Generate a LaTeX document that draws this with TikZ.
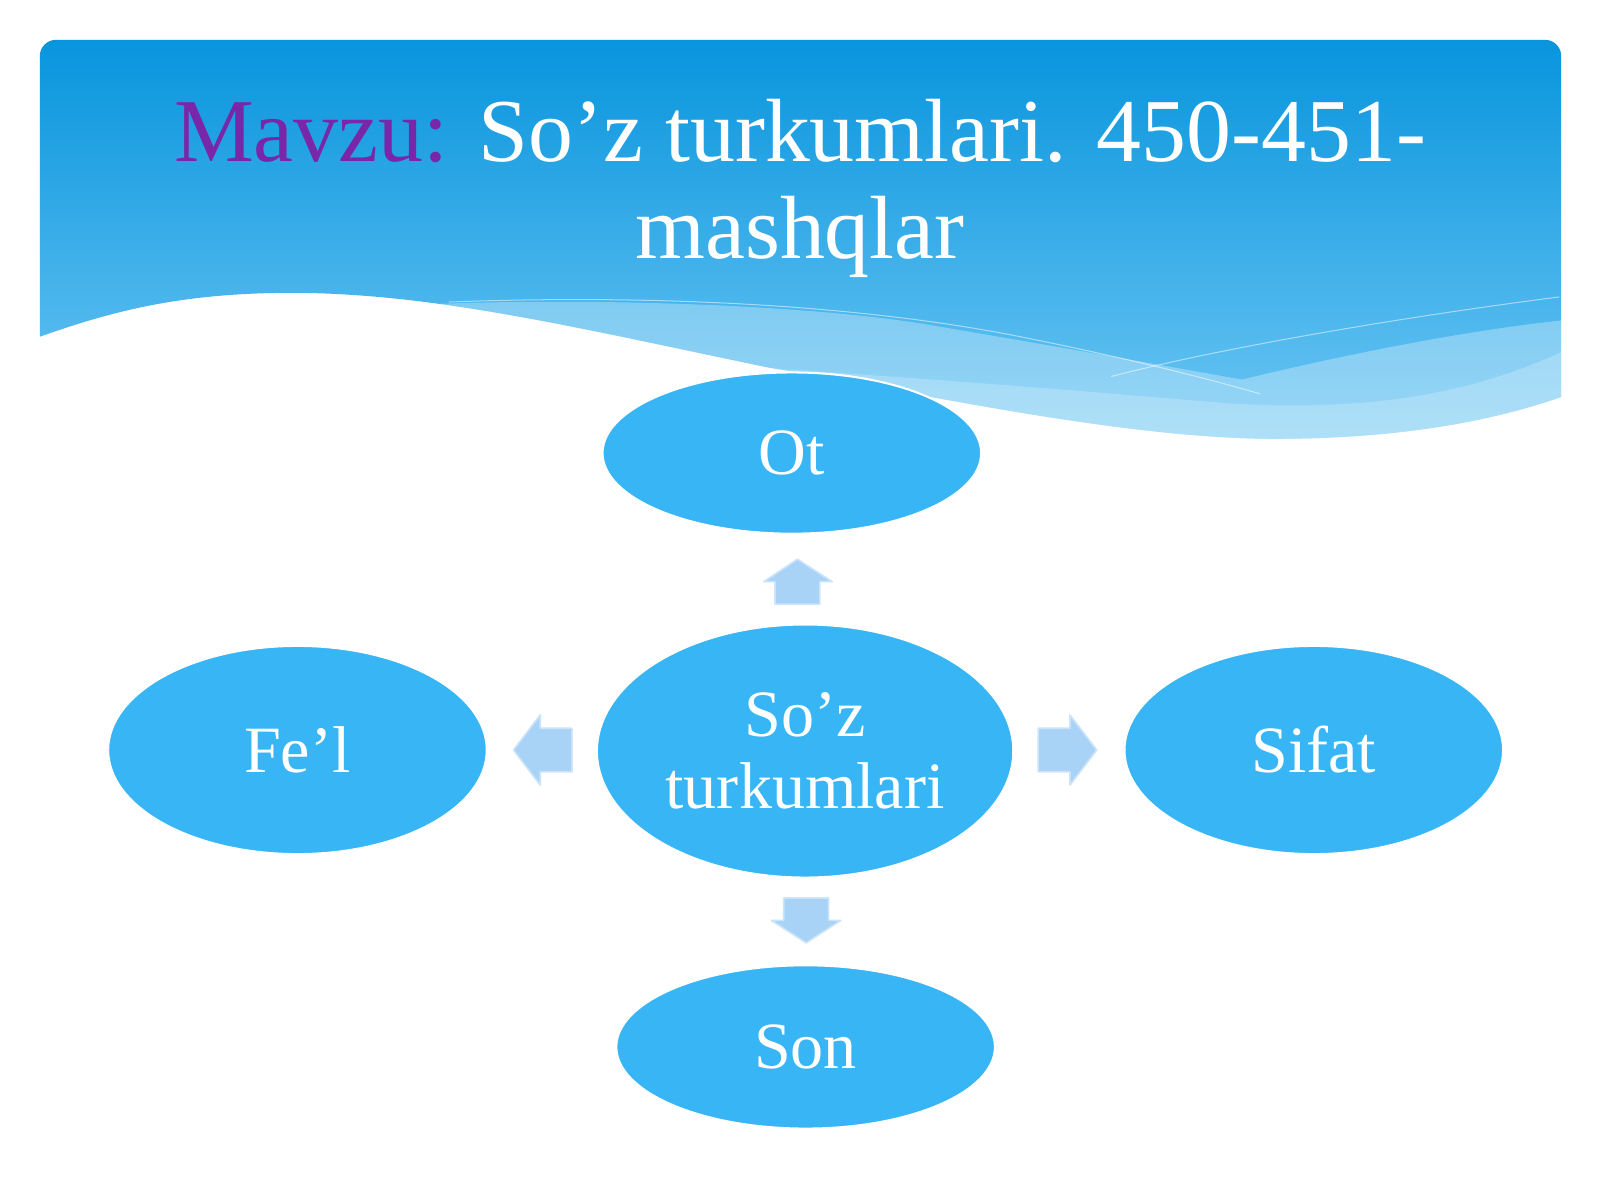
\documentclass[tikz,border=0pt]{standalone}
\usepackage{fontspec}
\setmainfont{Liberation Serif}
\usetikzlibrary{shapes.geometric}
\definecolor{bannertop}{RGB}{8,149,221}
\definecolor{bannerbot}{RGB}{108,198,244}
\definecolor{ellfill}{RGB}{56,181,245}
\definecolor{arrowfill}{RGB}{168,210,246}
\definecolor{mavzu}{RGB}{122,38,168}
\tikzset{
  bubble/.style={ellipse, fill=ellfill, draw=white, line width=1pt, inner sep=0pt,
    text=white, align=center, font=\fontsize{32.4}{35}\selectfont},
  blockarrow/.style={fill=arrowfill, draw=arrowfill!60!white, line width=0.8pt, line join=round},
  titletext/.style={anchor=base, text=white, font=\fontsize{44}{47}\selectfont, inner sep=0pt},
  waveline/.style={white, opacity=0.5, line width=0.5pt}
}
\begin{document}
\begin{tikzpicture}[x=0.5pt,y=-0.5pt]
\useasboundingbox (0,0) rectangle (1568,1176);
\fill[white] (0,0) rectangle (1568,1176);
% banner
\shade[top color=bannertop, bottom color=bannerbot]
  (39,330) [rounded corners=8pt] -- (39,39) -- (1530,39) [sharp corners] -- (1530,389)
  .. controls (1470,410) and (1380,430) .. (1250,430)
  .. controls (1100,430) and (900,385) .. (752,360)
  .. controls (560,320) and (420,286) .. (278,287)
  .. controls (180,288) and (115,303) .. (39,330) -- cycle;
\begin{scope}
\clip (39,30) -- (1530,30) -- (1530,389)
  .. controls (1470,410) and (1380,430) .. (1250,430)
  .. controls (1100,430) and (900,385) .. (752,360)
  .. controls (560,320) and (420,286) .. (278,287)
  .. controls (180,288) and (115,303) .. (39,330) -- cycle;
% lighter wave layers
\fill[white, opacity=0.3]
  (380,300) .. controls (560,290) and (800,298) .. (920,320)
  .. controls (1050,342) and (1150,360) .. (1217,372)
  .. controls (1300,352) and (1420,326) .. (1530,314)
  -- (1530,520) -- (380,520) -- cycle;
\fill[white, opacity=0.22]
  (560,350) .. controls (800,362) and (1000,378) .. (1200,395)
  .. controls (1350,405) and (1450,382) .. (1530,345)
  -- (1530,520) -- (560,520) -- cycle;
% faint lines
\draw[waveline] (440,296) .. controls (650,288) and (850,300) .. (1000,330)
  .. controls (1100,350) and (1180,370) .. (1235,386);
\draw[waveline] (1089,369) .. controls (1200,340) and (1380,310) .. (1528,291);
\end{scope}
% title
\node[titletext] (t1) at (784,158.4) {\textcolor{mavzu}{Mavzu:} So’z turkumlari. 450-451-};
\node[titletext] (t2) at (784,253) {mashqlar};
% ellipses
\node[bubble, minimum width=185.5pt, minimum height=79pt] (ot) at (776,444) {Ot};
\node[bubble, minimum width=204pt, minimum height=124pt] (soz) at (789,736) {So’z\\turkumlari};
\node[bubble, minimum width=185.5pt, minimum height=102pt] (fel) at (291.5,735) {Fe’l};
\node[bubble, minimum width=185.5pt, minimum height=102pt] (sifat) at (1287.5,735) {Sifat};
\node[bubble, minimum width=185.5pt, minimum height=80pt] (son) at (789.5,1026) {Son};
% block arrows
\coordinate (aup) at (781.5,570);
\coordinate (adown) at (790,902);
\coordinate (aleft) at (532,735);
\coordinate (aright) at (1046,735);
\fill[blockarrow] ([shift={(-22,22)}]aup) -- ([shift={(-22,0)}]aup) -- ([shift={(-33,0)}]aup) -- ([shift={(0,-22)}]aup)
  -- ([shift={(34,0)}]aup) -- ([shift={(22,0)}]aup) -- ([shift={(22,22)}]aup) -- cycle;
\fill[blockarrow] ([shift={(-22,-22)}]adown) -- ([shift={(-22,0)}]adown) -- ([shift={(-34,0)}]adown) -- ([shift={(0,22)}]adown)
  -- ([shift={(34,0)}]adown) -- ([shift={(22,0)}]adown) -- ([shift={(22,-22)}]adown) -- cycle;
\fill[blockarrow] ([shift={(-28.5,-21.3)}]aright) -- ([shift={(2.6,-21.3)}]aright) -- ([shift={(2.6,-34.3)}]aright) -- ([shift={(28.8,0)}]aright)
  -- ([shift={(2.6,34.3)}]aright) -- ([shift={(2.6,21.3)}]aright) -- ([shift={(-28.5,21.3)}]aright) -- cycle;
\fill[blockarrow] ([shift={(28.5,-21.3)}]aleft) -- ([shift={(-2.6,-21.3)}]aleft) -- ([shift={(-2.6,-34.3)}]aleft) -- ([shift={(-28.8,0)}]aleft)
  -- ([shift={(-2.6,34.3)}]aleft) -- ([shift={(-2.6,21.3)}]aleft) -- ([shift={(28.5,21.3)}]aleft) -- cycle;
\end{tikzpicture}
\end{document}
